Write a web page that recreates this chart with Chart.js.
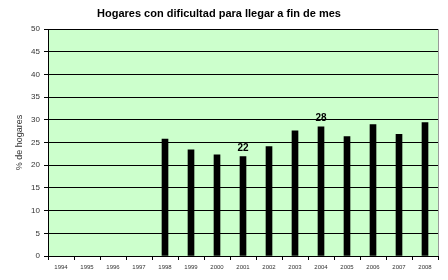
<!DOCTYPE html>
<html lang="es">
<head>
    <title>Hogares</title>
    <meta charset="UTF-8">
    <script src="https://cdn.jsdelivr.net/npm/chart.js"></script>
    <style>
        body {
            margin: 0;
            padding: 0;
            background: white;
        }
        #wrap {
            width: 448px;
            height: 280px;
        }
    </style>
</head>
<body>
    <div id="wrap"><canvas id="grafico"></canvas></div>

    <script>
        // Datos del gráfico
        var anios = ["1994", "1995", "1996", "1997", "1998", "1999", "2000", "2001",
                     "2002", "2003", "2004", "2005", "2006", "2007", "2008"];
        var porcentajes = [null, null, null, null, 25.8, 23.4, 22.3, 21.9,
                           24.1, 27.6, 28.5, 26.3, 29.0, 26.8, 29.4];
        var etiquetas = ["", "", "", "", "", "", "", "22", "", "", "28", "", "", "", ""];

        // Fondo verde del área del gráfico y borde derecho
        var fondoPlugin = {
            id: 'fondo',
            beforeDraw: function(chart) {
                var ctx = chart.ctx, a = chart.chartArea;
                ctx.save();
                ctx.fillStyle = '#ccffcc';
                ctx.fillRect(a.left, a.top, a.right - a.left, a.bottom - a.top);
                ctx.restore();
            },
            afterDraw: function(chart) {
                var ctx = chart.ctx, a = chart.chartArea;
                ctx.save();
                ctx.strokeStyle = '#999999';
                ctx.lineWidth = 1;
                ctx.beginPath();
                ctx.moveTo(a.right + 0.5, a.top);
                ctx.lineTo(a.right + 0.5, a.bottom);
                ctx.stroke();
                ctx.restore();
            }
        };

        // Etiquetas sobre algunas barras
        var etiquetasPlugin = {
            id: 'etiquetas',
            afterDatasetsDraw: function(chart) {
                var ctx = chart.ctx;
                var meta = chart.getDatasetMeta(0);
                ctx.save();
                ctx.font = 'bold 10px "Liberation Sans", Arial, sans-serif';
                ctx.fillStyle = '#000000';
                ctx.textAlign = 'center';
                ctx.textBaseline = 'bottom';
                meta.data.forEach(function(bar, i) {
                    if (etiquetas[i]) {
                        ctx.fillText(etiquetas[i], bar.x, bar.y - 3);
                    }
                });
                ctx.restore();
            }
        };

        var ctx = document.getElementById("grafico").getContext('2d');
        var grafico = new Chart(ctx, {
            type: 'bar',
            data: {
                labels: anios,
                datasets: [{
                    data: porcentajes,
                    backgroundColor: '#000000',
                    borderWidth: 0,
                    barThickness: 6
                }]
            },
            options: {
                responsive: true,
                maintainAspectRatio: false,
                animation: false,
                layout: {
                    padding: { left: 0, right: 10, top: 0, bottom: 0 }
                },
                plugins: {
                    legend: { display: false },
                    tooltip: { enabled: false },
                    title: {
                        display: true,
                        text: 'Hogares con dificultad para llegar a fin de mes',
                        color: '#000000',
                        font: { family: '"Liberation Sans", Arial, sans-serif', size: 11, weight: 'bold' },
                        padding: { top: 7, bottom: 9 }
                    }
                },
                scales: {
                    x: {
                        grid: {
                            drawOnChartArea: false,
                            drawTicks: true,
                            tickLength: 4,
                            color: '#000000'
                        },
                        border: { color: '#000000' },
                        ticks: {
                            color: '#333333',
                            padding: 4,
                            maxRotation: 0,
                            autoSkip: false,
                            font: { family: '"Liberation Sans", Arial, sans-serif', size: 6 }
                        },
                        afterFit: function(scale) { scale.height = 24; }
                    },
                    y: {
                        min: 0,
                        max: 50,
                        ticks: {
                            stepSize: 5,
                            color: '#333333',
                            padding: 4,
                            font: { family: '"Liberation Sans", Arial, sans-serif', size: 8 }
                        },
                        grid: {
                            color: '#000000',
                            tickLength: 4
                        },
                        border: { color: '#000000' },
                        title: {
                            display: true,
                            text: '% de hogares',
                            color: '#333333',
                            font: { family: '"Liberation Sans", Arial, sans-serif', size: 9 },
                            padding: { top: 14, bottom: 0 }
                        },
                        afterFit: function(scale) { scale.width = 48; }
                    }
                }
            },
            plugins: [fondoPlugin, etiquetasPlugin]
        });
    </script>
</body>
</html>
